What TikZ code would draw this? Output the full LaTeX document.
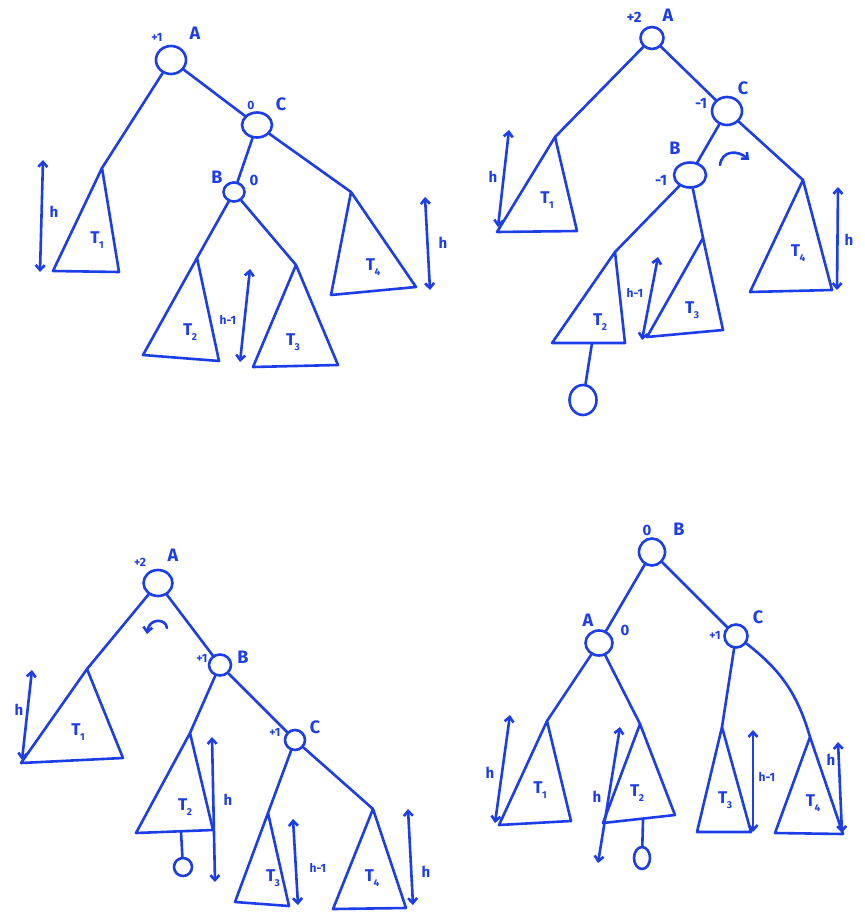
\documentclass[tikz,border=0pt]{standalone}
\usepackage{fontspec}
\setmainfont{Fira Sans}
\usetikzlibrary{shapes.geometric,arrows.meta}
\definecolor{inkblue}{RGB}{28,62,232}
\newcommand\Tn[1]{T\kern-0.5pt\raisebox{-0.5ex}{\fontsize{10}{10}\selectfont #1}}
\begin{document}
\begin{tikzpicture}[x=1pt,y=-1pt,
  ink/.style={draw=inkblue,line width=2.6pt,line cap=round,line join=round},
  vtx/.style={ink,ellipse,inner sep=0pt},
  hgt/.style={ink,{Straight Barb[length=5pt,width=9pt]}-{Straight Barb[length=5pt,width=9pt]}},
  rot/.style={ink,-{Straight Barb[length=5pt,width=9pt]}},
  lbl/.style={text=inkblue,inner sep=0pt,font=\bfseries\fontsize{18}{18}\selectfont},
  bal/.style={text=inkblue,inner sep=0pt,font=\bfseries\fontsize{12}{12}\selectfont},
  tl/.style={text=inkblue,inner sep=0pt,font=\bfseries\fontsize{17}{17}\selectfont},
  hl/.style={text=inkblue,inner sep=0pt,font=\bfseries\fontsize{15}{15}\selectfont}]
\fill[white] (0,0) rectangle (864,912);
\useasboundingbox (0,0) rectangle (864,912);

% ===== Quadrant 1 =====
\node[vtx,minimum width=30pt,minimum height=28pt] (A1) at (171,60) {};
\node[vtx,minimum width=30pt,minimum height=25pt] (C1) at (257,125) {};
\node[vtx,minimum width=21pt,minimum height=19pt] (B1) at (234,192) {};
\node[bal] (A1b) at (157,37) {+1};
\node[lbl] (A1n) at (195,33) {A};
\node[bal] (C1b) at (251,105) {0};
\node[lbl] (C1n) at (281,104) {C};
\node[lbl] (B1n) at (217,177) {B};
\node[hl] (B1b) at (254,180) {0};
\coordinate (t11) at (102,168);
\coordinate (t12) at (197,258);
\coordinate (t13) at (296,265);
\coordinate (t14) at (351,192);
\draw[ink] (t11) -- (53,271) -- (119,272) -- cycle;
\draw[ink] (t12) -- (143,355) -- (219,361) -- cycle;
\draw[ink] (t13) -- (253,367) -- (338,365) -- cycle;
\draw[ink] (t14) -- (331,295) -- (416,287) -- cycle;
\node[tl] (T11) at (97,240) {\Tn{1}};
\node[tl] (T12) at (190,332) {\Tn{2}};
\node[tl] (T13) at (293,342) {\Tn{3}};
\node[tl] (T14) at (373,267) {\Tn{4}};
\draw[ink] (A1) -- (t11);
\draw[ink] (A1) -- (C1);
\draw[ink] (C1) -- (B1);
\draw[ink] (C1) -- (t14);
\draw[ink] (B1) -- (t12);
\draw[ink] (B1) -- (t13);
\coordinate (h11a) at (43,160); \coordinate (h11b) at (40,272);
\coordinate (h12a) at (250,269); \coordinate (h12b) at (240,362);
\coordinate (h13a) at (425,197); \coordinate (h13b) at (430,290);
\draw[hgt] (h11a) -- (h11b);
\draw[hgt] (h12a) -- (h12b);
\draw[hgt] (h13a) -- (h13b);
\node[hl] (h11) at (54,212) {h};
\node[bal] (h12) at (228,320) {h-1};
\node[hl] (h13) at (443,243) {h};

% ===== Quadrant 2 =====
\node[vtx,minimum width=23pt,minimum height=22pt] (A2) at (652,38) {};
\node[vtx,minimum width=30pt,minimum height=28pt] (C2) at (727,111) {};
\node[vtx,minimum width=32pt,minimum height=25pt] (B2) at (690,175) {};
\node[hl] (A2b) at (634,17) {+2};
\node[lbl] (A2n) at (668,15) {A};
\node[hl] (C2b) at (701,103) {-1};
\node[lbl] (C2n) at (743,88) {C};
\node[lbl] (B2n) at (675,148) {B};
\node[hl] (B2b) at (661,180) {-1};
\coordinate (t21) at (555,137);
\coordinate (t22) at (615,252);
\coordinate (t23) at (703,238);
\coordinate (t24) at (803,180);
\draw[ink] (t21) -- (497,232) -- (577,231) -- cycle;
\draw[ink] (t22) -- (552,343) -- (625,343) -- cycle;
\draw[ink] (t23) -- (647,337) -- (723,330) -- cycle;
\draw[ink] (t24) -- (750,292) -- (832,290) -- cycle;
\node[tl] (T21) at (547,200) {\Tn{1}};
\node[tl] (T22) at (600,322) {\Tn{2}};
\node[tl] (T23) at (692,310) {\Tn{3}};
\node[tl] (T24) at (798,253) {\Tn{4}};
\draw[ink] (A2) -- (t21);
\draw[ink] (A2) -- (C2);
\draw[ink] (C2) -- (B2);
\draw[ink] (C2) -- (t24);
\draw[ink] (B2) -- (t22);
\draw[ink] (B2) -- (t23);
\coordinate (s2) at (592,343);
\node[vtx,minimum width=27pt,minimum height=30pt] (O2) at (583,400) {};
\draw[ink] (s2) -- (O2);
\coordinate (h21a) at (509,130); \coordinate (h21b) at (498,227);
\coordinate (h22a) at (658,257); \coordinate (h22b) at (642,340);
\coordinate (h24a) at (838,187); \coordinate (h24b) at (837,290);
\draw[hgt] (h21a) -- (h21b);
\draw[hgt] (h22a) -- (h22b);
\draw[hgt] (h24a) -- (h24b);
\node[hl] (h21) at (493,177) {h};
\node[bal] (h22) at (635,293) {h-1};
\node[hl] (h24) at (849,240) {h};
\coordinate (r2a) at (720,165); \coordinate (r2b) at (749,160);
\draw[rot] (r2a) .. controls (722,150) and (738,150) .. (r2b);

% ===== Quadrant 3 =====
\node[vtx,minimum width=29pt,minimum height=26pt] (A3) at (158,583) {};
\node[vtx,minimum width=22pt,minimum height=21pt] (B3) at (220,665) {};
\node[vtx,minimum width=20pt,minimum height=20pt] (C3) at (295,740) {};
\node[bal] (A3b) at (140,562) {+2};
\node[lbl] (A3n) at (173,555) {A};
\node[bal] (B3b) at (202,658) {+1};
\node[lbl] (B3n) at (243,657) {B};
\node[bal] (C3b) at (275,732) {+1};
\node[lbl] (C3n) at (315,727) {C};
\coordinate (t31) at (87,669);
\coordinate (t32) at (190,733);
\coordinate (t33) at (268,813);
\coordinate (t34) at (373,809);
\draw[ink] (t31) -- (21,763) -- (123,758) -- cycle;
\draw[ink] (t32) -- (136,833) -- (213,830) -- cycle;
\draw[ink] (t33) -- (235,902) -- (289,906) -- cycle;
\draw[ink] (t34) -- (333,909) -- (406,908) -- cycle;
\node[tl] (T31) at (78,732) {\Tn{1}};
\node[tl] (T32) at (185,807) {\Tn{2}};
\node[tl] (T33) at (273,878) {\Tn{3}};
\node[tl] (T34) at (372,878) {\Tn{4}};
\draw[ink] (A3) -- (t31);
\draw[ink] (A3) -- (B3);
\draw[ink] (B3) -- (t32);
\draw[ink] (B3) -- (C3);
\draw[ink] (C3) -- (t33);
\draw[ink] (C3) -- (t34);
\coordinate (s3) at (181,832);
\node[vtx,minimum width=18pt,minimum height=18pt] (O3) at (183,867) {};
\draw[ink] (s3) -- (O3);
\coordinate (h31a) at (32,670); \coordinate (h31b) at (22,760);
\coordinate (h32a) at (212,737); \coordinate (h32b) at (215,882);
\coordinate (h33a) at (293,819); \coordinate (h33b) at (298,905);
\coordinate (h34a) at (408,809); \coordinate (h34b) at (413,905);
\draw[hgt] (h31a) -- (h31b);
\draw[hgt] (h32a) -- (h32b);
\draw[hgt] (h33a) -- (h33b);
\draw[hgt] (h34a) -- (h34b);
\node[hl] (h31) at (19,710) {h};
\node[hl] (h32) at (228,800) {h};
\node[bal] (h33) at (318,868) {h-1};
\node[hl] (h34) at (426,872) {h};
\coordinate (r3a) at (167,628); \coordinate (r3b) at (147,634);
\draw[rot] (r3a) .. controls (166,618) and (149,618) .. (r3b);

% ===== Quadrant 4 =====
\node[vtx,minimum width=26pt,minimum height=27pt] (B4) at (652,552) {};
\node[vtx,minimum width=27pt,minimum height=25pt] (A4) at (599,643) {};
\node[vtx,minimum width=23pt,minimum height=23pt] (C4) at (736,636) {};
\node[hl] (B4b) at (647,530) {0};
\node[lbl] (B4n) at (679,529) {B};
\node[lbl] (A4n) at (588,620) {A};
\node[hl] (A4b) at (625,630) {0};
\node[lbl] (C4n) at (758,617) {C};
\node[bal] (C4b) at (715,635) {+1};
\coordinate (t41) at (547,721);
\coordinate (t42) at (640,724);
\coordinate (t43) at (722,727);
\coordinate (t44) at (810,737);
\draw[ink] (t41) -- (499,825) -- (571,821) -- cycle;
\draw[ink] (t42) -- (603,823) -- (675,815) -- cycle;
\draw[ink] (t43) -- (697,832) -- (751,832) -- cycle;
\draw[ink] (t44) -- (775,833) -- (843,834) -- cycle;
\node[tl] (T41) at (540,790) {\Tn{1}};
\node[tl] (T42) at (637,793) {\Tn{2}};
\node[tl] (T43) at (725,800) {\Tn{3}};
\node[tl] (T44) at (813,803) {\Tn{4}};
\draw[ink] (B4) -- (A4);
\draw[ink] (B4) -- (C4);
\draw[ink] (A4) -- (t41);
\draw[ink] (A4) -- (t42);
\draw[ink] (C4) -- (t43);
\draw[ink] (C4) to[bend left=18] (t44);
\coordinate (s4) at (643,820);
\node[vtx,minimum width=16pt,minimum height=22pt] (O4) at (642,858) {};
\draw[ink] (s4) -- (O4);
\coordinate (h41a) at (510,715); \coordinate (h41b) at (495,823);
\coordinate (h42a) at (620,727); \coordinate (h42b) at (598,863);
\coordinate (h43a) at (753,730); \coordinate (h43b) at (753,832);
\coordinate (h44a) at (838,742); \coordinate (h44b) at (842,833);
\draw[hgt] (h41a) -- (h41b);
\draw[hgt] (h42a) -- (h42b);
\draw[hgt] (h43a) -- (h43b);
\draw[hgt] (h44a) -- (h44b);
\node[hl] (h41) at (490,773) {h};
\node[hl] (h42) at (597,797) {h};
\node[bal] (h43) at (767,777) {h-1};
\node[hl] (h44) at (831,760) {h};
\end{tikzpicture}
\end{document}
